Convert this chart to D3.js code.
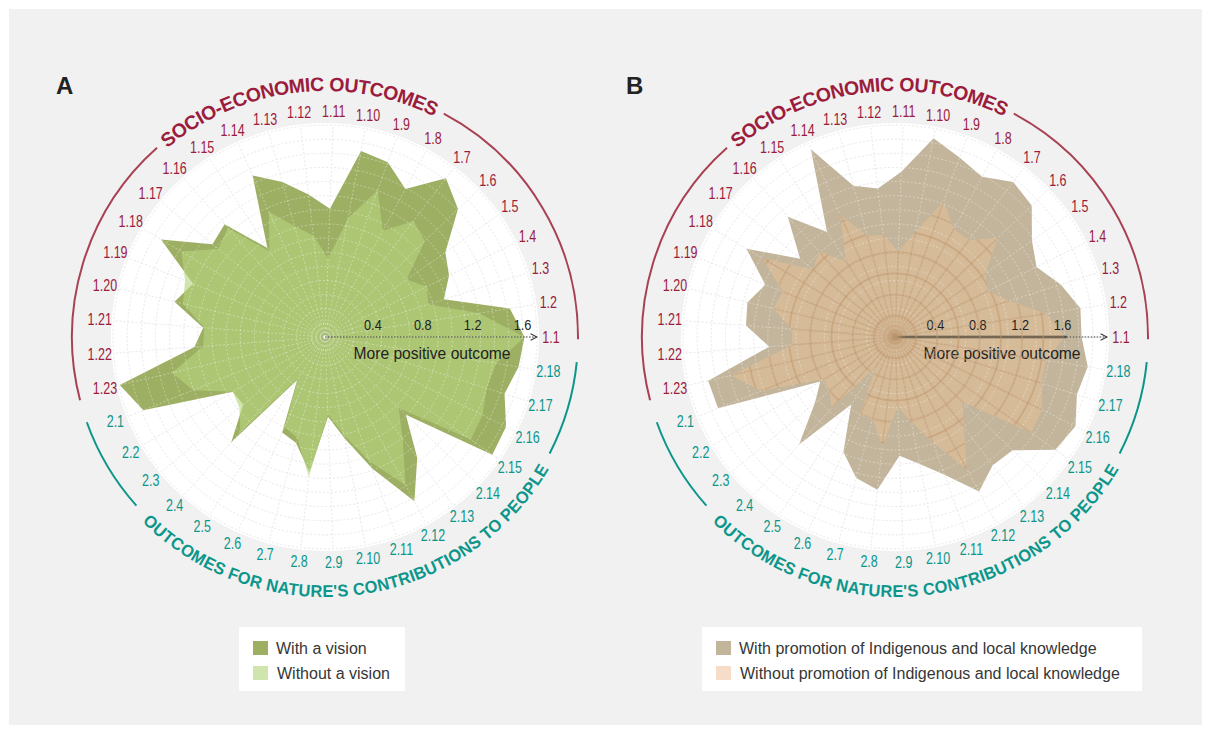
<!DOCTYPE html>
<html>
<head>
<meta charset="utf-8">
<script src="https://cdn.jsdelivr.net/npm/d3@7"></script>
<style>
  body { margin: 0; background: #fff; }
  svg { display: block; }
  text { font-family: "Liberation Sans", Arial, sans-serif; }
</style>
</head>
<body>
<svg id="chart" width="1211" height="733"></svg>
<script>
// outcome codes, counter-clockwise from the right
const socioCodes = d3.range(1, 24).map(i => "1." + i);
const ncpCodes = d3.range(1, 19).map(i => "2." + i);
const outcomes = socioCodes.concat(ncpCodes);

// panel A, scale 0..1.7
const withVision = [1.60, 1.50, 1.00, 1.11, 1.18, 1.48, 1.60, 1.35, 1.49, 1.52, 1.03, 1.15, 1.29, 1.42, 0.85, 1.21, 1.17, 1.53, 1.14, 1.24, 0.98, 1.05, 1.69,
                    1.57, 0.86, 0.85, 1.13, 0.41, 0.84, 0.88, 1.09, 0.64, 0.83, 1.12, 1.50, 1.22, 0.90, 1.64, 1.62, 1.51, 1.57];
const withoutVision = [1.60, 1.25, 0.87, 0.91, 0.80, 1.11, 1.17, 0.97, 1.25, 0.97, 0.63, 0.82, 0.92, 1.10, 0.82, 1.17, 1.11, 1.34, 1.21, 1.17, 0.97, 0.98, 1.26,
                       1.14, 0.86, 0.89, 1.02, 0.40, 0.79, 0.84, 1.13, 0.62, 0.80, 1.06, 1.35, 1.03, 0.82, 1.43, 1.41, 1.36, 1.39];

// panel B, scale 0..2.0
const withILK = [1.76, 1.77, 1.64, 1.49, 1.58, 1.79, 1.84, 1.72, 1.80, 1.91, 1.56, 1.41, 1.48, 1.94, 1.18, 1.52, 1.16, 1.63, 1.32, 1.43, 1.41, 1.19, 1.81,
                 1.80, 0.82, 0.98, 1.36, 0.76, 1.19, 1.38, 1.45, 1.12, 1.22, 1.38, 1.66, 1.52, 1.54, 1.85, 1.90, 1.80, 1.84];
const withoutILK = [1.60, 1.44, 1.13, 0.98, 1.04, 1.35, 1.15, 1.16, 1.36, 1.01, 0.81, 0.97, 0.99, 1.27, 0.85, 1.08, 1.00, 1.46, 1.14, 1.18, 0.98, 0.97, 1.59,
                    1.36, 0.78, 0.80, 0.90, 0.34, 0.80, 0.80, 1.04, 0.66, 0.82, 1.06, 1.42, 1.07, 0.88, 1.57, 1.55, 1.45, 1.44];

const scaleTicks = [0.4, 0.8, 1.2, 1.6];

const panels = [
  { letter: "A", cx: 325, max: 1.7, outer: withVision, inner: withoutVision,
    outerColor: "#9daf63", innerColor: "rgb(180,212,126)", innerOpacity: 0.63,
    legend: ["With a vision", "Without a vision"], legendSwatch: ["#9daf63", "#d0e4ae"],
    legendX: 239, legendW: 166, solidAxis: false, innerGrid: false },
  { letter: "B", cx: 895, max: 2.0, outer: withILK, inner: withoutILK,
    outerColor: "#c2b59b", innerColor: "rgb(234,194,152)", innerOpacity: 0.5,
    legend: ["With promotion of Indigenous and local knowledge", "Without promotion of Indigenous and local knowledge"],
    legendSwatch: ["#c2b59b", "#f6dcc9"],
    legendX: 702, legendW: 440, solidAxis: true, innerGrid: true }
];

const cy = 337;
const R = 212;
const labelR = 226;
const arcR = 253;
const red = "#9b1c3c";
const teal = "#0c968b";
const deg = Math.PI / 180;

const svg = d3.select("#chart");
svg.append("rect").attr("x", 9).attr("y", 9).attr("width", 1193).attr("height", 716).attr("fill", "#f1f1f1");

const defs = svg.append("defs");
defs.append("marker")
  .attr("id", "arrow")
  .attr("viewBox", "0 0 10 10").attr("refX", 9).attr("refY", 5)
  .attr("markerWidth", 8).attr("markerHeight", 8).attr("markerUnits", "userSpaceOnUse")
  .attr("orient", "auto")
  .append("path").attr("d", "M1,1 L9,5 L1,9").attr("fill", "none").attr("stroke", "#333").attr("stroke-width", 1.3);

const angle = d3.scaleLinear().domain([0, outcomes.length]).range([0, 2 * Math.PI]);

function pt(a, r) { return [r * Math.cos(a), -r * Math.sin(a)]; }

function arcPath(r, a0, a1, sweep) {
  const p0 = pt(a0 * deg, r), p1 = pt(a1 * deg, r);
  return `M${p0[0]},${p0[1]} A${r},${r} 0 0 ${sweep} ${p1[0]},${p1[1]}`;
}

// squeeze text horizontally to mimic the condensed face of the original
function condense(sel, k) {
  sel.each(function() {
    const w = this.getComputedTextLength();
    d3.select(this).attr("textLength", w * k).attr("lengthAdjust", "spacingAndGlyphs");
  });
}

function drawGrid(g, stroke, opacity) {
  const grid = g.append("g").attr("fill", "none").attr("stroke", stroke).attr("stroke-opacity", opacity)
    .attr("stroke-width", 0.8).attr("stroke-dasharray", "2,2");
  grid.selectAll("circle").data(d3.range(1, 16)).enter().append("circle")
    .attr("r", d => d * R / 15);
  grid.selectAll("line").data(outcomes).enter().append("line")
    .attr("x2", (d, i) => pt(angle(i), R)[0])
    .attr("y2", (d, i) => pt(angle(i), R)[1]);
}

panels.forEach((p, pi) => {
  const g = svg.append("g").attr("transform", `translate(${p.cx},${cy})`);
  const r = d3.scaleLinear().domain([0, p.max]).range([0, R]);
  const radial = d3.lineRadial()
    .angle((d, i) => Math.PI / 2 - angle(i))
    .radius(d => r(d))
    .curve(d3.curveLinearClosed);

  svg.append("text").attr("x", p.cx - 269).attr("y", 94)
    .attr("font-size", 24).attr("font-weight", "bold").attr("fill", "#222").text(p.letter);

  g.append("circle").attr("r", R + 2).attr("fill", "#fff");
  drawGrid(g, "#cfcfcf", 0.8);

  g.append("path").attr("d", radial(p.outer)).attr("fill", p.outerColor);
  g.append("path").attr("d", radial(p.inner)).attr("fill", p.innerColor).attr("fill-opacity", p.innerOpacity);

  if (p.innerGrid) {
    const clipId = "innerClip" + pi;
    defs.append("clipPath").attr("id", clipId).append("path").attr("d", radial(p.inner))
      .attr("transform", `translate(${p.cx},${cy})`);
    const ig = svg.append("g").attr("clip-path", `url(#${clipId})`)
      .append("g").attr("transform", `translate(${p.cx},${cy})`)
      .attr("fill", "none").attr("stroke", "rgb(190,150,108)").attr("stroke-opacity", 0.5);
    ig.selectAll("circle").data(d3.range(0.2, p.max, 0.2)).enter().append("circle")
      .attr("r", d => r(d)).attr("stroke-width", 1.8);
    ig.selectAll("line").data(outcomes).enter().append("line")
      .attr("x2", (d, i) => pt(angle(i), R)[0])
      .attr("y2", (d, i) => pt(angle(i), R)[1]).attr("stroke-width", 1.4);
  }

  // light grid over the filled areas
  const over = g.append("g");
  drawGrid(over, "#ffffff", 0.45);

  // centre target
  g.selectAll(".target").data([2, 4, 6]).enter().append("circle")
    .attr("r", d => d).attr("fill", "none").attr("stroke", "#8a8a7a").attr("stroke-width", 0.5).attr("stroke-opacity", 0.6);

  // scale arrow
  if (p.solidAxis) {
    g.append("line").attr("x1", 0).attr("x2", r(1.62)).attr("stroke", "#4a4a44").attr("stroke-width", 2.4);
    g.append("line").attr("x1", r(1.62)).attr("x2", R).attr("stroke", "#444").attr("stroke-width", 1)
      .attr("stroke-dasharray", "1.5,1.5").attr("marker-end", "url(#arrow)");
  } else {
    g.append("line").attr("x1", 0).attr("x2", R).attr("stroke", "#444").attr("stroke-width", 1)
      .attr("stroke-dasharray", "1.5,1.5").attr("marker-end", "url(#arrow)");
  }
  g.selectAll(".tick").data(scaleTicks).enter().append("text")
    .attr("x", d => r(d) - 2).attr("y", -7)
    .attr("text-anchor", "middle").attr("font-size", 15).attr("fill", "#222")
    .text(d => d.toFixed(1))
    .call(condense, 0.85);
  g.append("text").attr("x", 107).attr("y", 22).attr("text-anchor", "middle")
    .attr("font-size", 16.5).attr("fill", "#222").text("More positive outcome")
    .call(sel => sel.attr("textLength", 157).attr("lengthAdjust", "spacingAndGlyphs"));

  // outcome labels
  g.selectAll(".lab").data(outcomes).enter().append("text")
    .attr("x", (d, i) => pt(angle(i), labelR)[0])
    .attr("y", (d, i) => pt(angle(i), labelR)[1])
    .attr("text-anchor", "middle").attr("dominant-baseline", "central")
    .attr("font-size", 16)
    .attr("fill", d => d.startsWith("1.") ? red : teal)
    .text(d => d)
    .call(condense, 0.78);

  // group arcs
  g.append("path").attr("d", arcPath(arcR, 62, -0.5, 1)).attr("fill", "none").attr("stroke", "#a84152").attr("stroke-width", 2);
  g.append("path").attr("d", arcPath(arcR, 194.5, 131.6, 1)).attr("fill", "none").attr("stroke", "#a84152").attr("stroke-width", 2);
  g.append("path").attr("d", arcPath(arcR, -5.7, -27.4, 1)).attr("fill", "none").attr("stroke", teal).attr("stroke-width", 2);
  g.append("path").attr("d", arcPath(arcR, 221.8, 199.7, 1)).attr("fill", "none").attr("stroke", teal).attr("stroke-width", 2);

  defs.append("path").attr("id", "topArc" + pi).attr("d", arcPath(arcR, 131, 62.5, 1))
    .attr("transform", `translate(${p.cx},${cy})`);
  defs.append("path").attr("id", "botArc" + pi).attr("d", arcPath(arcR + 1, 225, 329.8, 0))
    .attr("transform", `translate(${p.cx},${cy})`);

  svg.append("text").attr("font-size", 19.5).attr("font-weight", "bold").attr("fill", red)
    .attr("dominant-baseline", "central")
    .append("textPath").attr("href", "#topArc" + pi).attr("startOffset", "50%").attr("text-anchor", "middle")
    .attr("textLength", 292).attr("lengthAdjust", "spacing")
    .text("SOCIO-ECONOMIC OUTCOMES");
  svg.append("text").attr("font-size", 17).attr("font-weight", "bold").attr("fill", teal)
    .attr("dominant-baseline", "central")
    .append("textPath").attr("href", "#botArc" + pi).attr("startOffset", "50%").attr("text-anchor", "middle")
    .attr("textLength", 462).attr("lengthAdjust", "spacingAndGlyphs")
    .text("OUTCOMES FOR NATURE'S CONTRIBUTIONS TO PEOPLE");

  // legend
  const lg = svg.append("g").attr("transform", `translate(${p.legendX},627)`);
  lg.append("rect").attr("width", p.legendW).attr("height", 64).attr("fill", "#fff");
  p.legend.forEach((t, k) => {
    lg.append("rect").attr("x", 14).attr("y", 14 + k * 25).attr("width", 15).attr("height", 14).attr("fill", p.legendSwatch[k]);
    lg.append("text").attr("x", 37 + (k ? 1 : 0)).attr("y", 21 + k * 25).attr("dominant-baseline", "central")
      .attr("font-size", 16).attr("fill", "#363636").text(t);
  });
});
</script>
</body>
</html>
